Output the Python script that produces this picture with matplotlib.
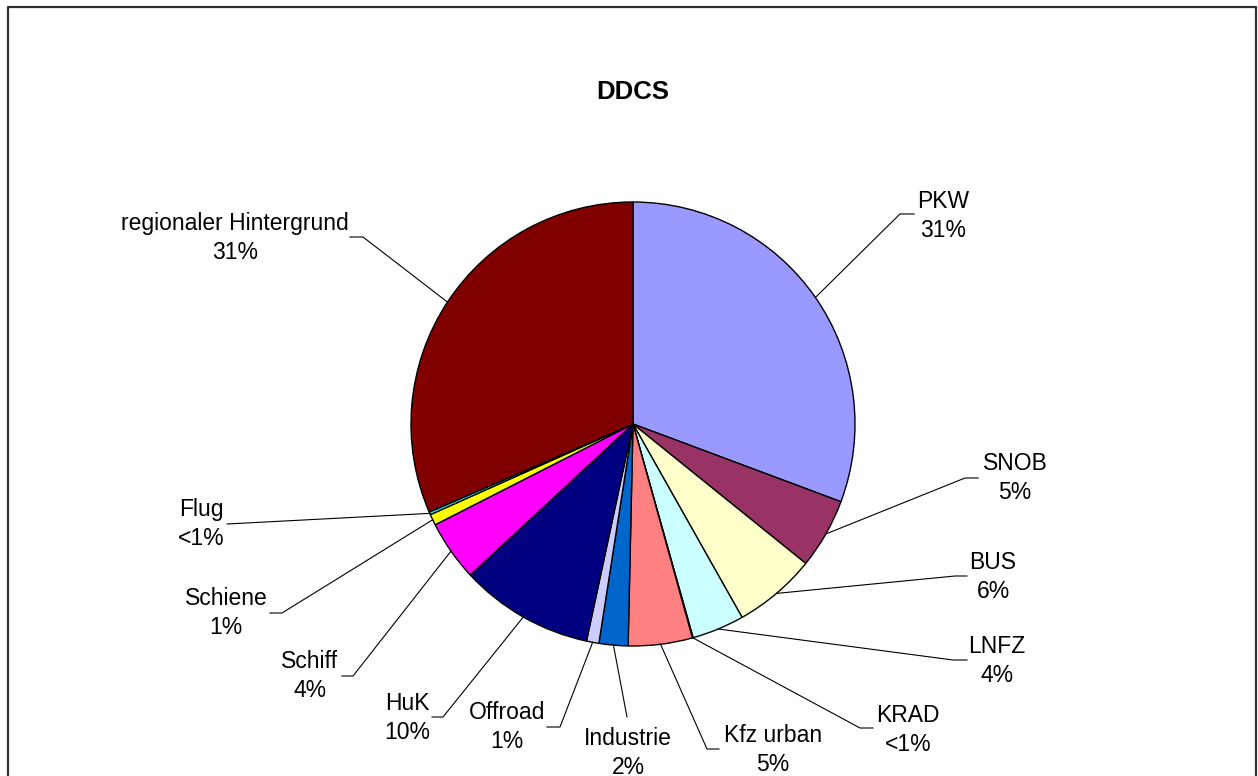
import numpy as np
import matplotlib
matplotlib.use("Agg")
import matplotlib.pyplot as plt

plt.rcParams['font.family'] = ['Liberation Sans', 'DejaVu Sans']

# --- data (shares in %; clockwise from 12 o'clock) ---
names = ["PKW", "SNOB", "BUS", "LNFZ", "KRAD", "Kfz urban", "Industrie", "Offroad",
         "HuK", "Schiff", "Schiene", "Flug", "regionaler Hintergrund"]
shares = [30.6, 5.1, 6.0, 3.8, 0.05, 4.65, 2.1, 0.9, 9.7, 4.4, 0.8, 0.2, 31.4]
pct_txt = ["31%", "5%", "6%", "4%", "<1%", "5%", "2%", "1%", "10%", "4%", "1%", "<1%", "31%"]
colors = ["#9999FF", "#993366", "#FFFFCC", "#CCFFFF", "#660066", "#FF8080", "#0066CC",
          "#CCCCFF", "#000080", "#FF00FF", "#FFFF00", "#00FFFF", "#800000"]

# label layout in pixel coords: text centre, leader elbow, leader end
txt_xy = [(943, 216), (1015, 478), (993, 577), (997, 661), (908, 730), (773, 750), (628, 753),
          (507, 727), (407, 718), (310, 676), (226, 613), (201, 524), (235, 238)]
elbow = [(900, 214), (965, 478), (955, 576), (953, 660), (860, 728), (707, 749), (627, 717),
         (560, 727), (443, 717), (353, 676), (282, 613), (227, 524), (363, 237)]
lend = [(914, 214), (978, 478), (967, 576), (967, 660), (873, 728), (719, 749), (627, 717),
        (547, 727), (432, 717), (342, 676), (270, 613), (227, 524), (350, 237)]

W, H = 1258, 776
CX, CY, R = 633, 424, 222

fig = plt.figure(figsize=(W / 100, H / 100), dpi=100)
ax = fig.add_axes([0, 0, 1, 1])

# y axis is inverted -> start at -90 and go "counterclockwise" to look clockwise from top
ax.pie(shares, colors=colors, startangle=-90, counterclock=True, center=(CX, CY), radius=R,
       wedgeprops=dict(edgecolor="black", linewidth=1.0), frame=True)
ax.set_xlim(0, W); ax.set_ylim(H, 0)  # pixel coords, y down
ax.set_aspect("equal"); ax.axis("off")

tot = float(np.sum(shares))
cum = np.cumsum([0] + shares[:-1]) / tot
mid = cum + np.array(shares) / tot / 2
for i, nm in enumerate(names):
    th = np.deg2rad(-90 + 360 * mid[i])
    sx, sy = CX + R * np.cos(th), CY + R * np.sin(th)
    ax.plot([sx, elbow[i][0], lend[i][0]], [sy, elbow[i][1], lend[i][1]], color="black", lw=0.8)
    ax.text(txt_xy[i][0], txt_xy[i][1], f"{nm}\n{pct_txt[i]}", ha="center", va="center",
            fontsize=16.5, linespacing=1.3, color="black")

ax.text(633, 92, "DDCS", ha="center", va="center", fontsize=18.5, fontweight="bold")

# chart frame (bottom edge cut off in the original)
ax.plot([8, 8, 1256, 1256], [H + 5, 7, 7, H + 5], color="#303030", lw=1.6, clip_on=False)

fig.savefig("out.png", dpi=100)
